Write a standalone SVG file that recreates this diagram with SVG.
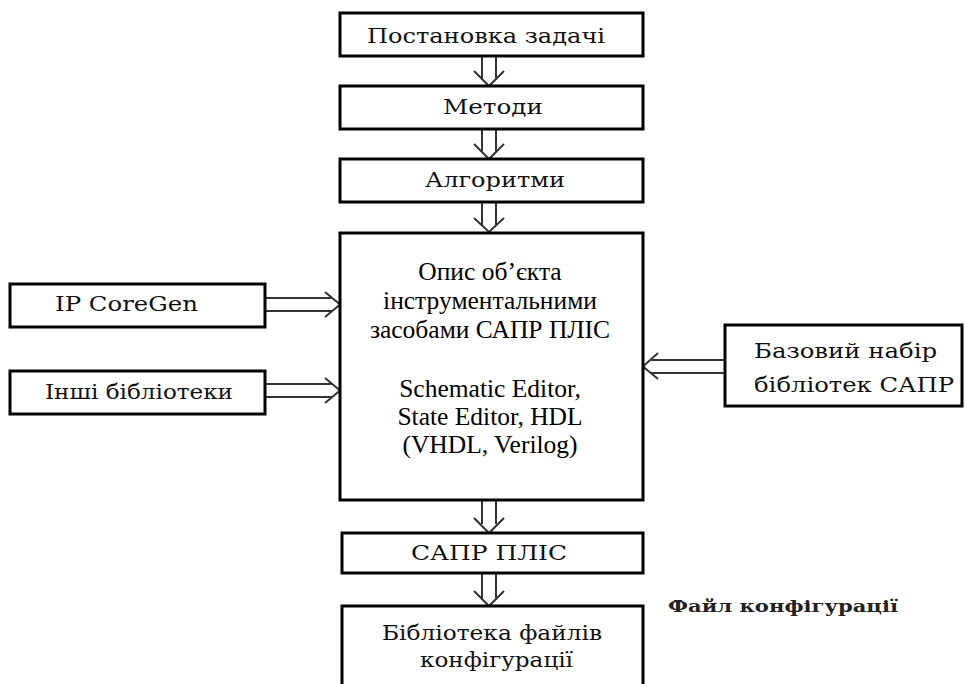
<svg xmlns="http://www.w3.org/2000/svg" width="965" height="684" viewBox="0 0 965 684">
<style>
.box{fill:#fff;stroke:#000;stroke-width:3}
.cn{fill:none;stroke:#333;stroke-width:2}
.t{font-family:"DejaVu Serif","Liberation Serif",serif;font-size:21px;fill:#111}
.s{font-family:"Liberation Serif","Times New Roman",serif;font-size:25.5px;fill:#000;text-anchor:middle}
.b{font-family:"DejaVu Serif","Liberation Serif",serif;font-size:17px;font-weight:bold;fill:#222}
</style>
<rect width="965" height="684" fill="#fff"/>
<g id="connectors">
<path class="cn" d="M482,57V78M496,57V78M474,71L489,86L504,71"/>
<path class="cn" d="M482,130V151M496,130V151M474,144L489,159L504,144"/>
<path class="cn" d="M482,203V225M496,203V225M474,218L489,232L504,218"/>
<path class="cn" d="M482,501V524M496,501V524M474,518L489,533L504,518"/>
<path class="cn" d="M482,574V598M496,574V598M474,591L489,606L504,591"/>
<path class="cn" d="M266,298H332M266,311H332M325,292L340,304.5L325,317"/>
<path class="cn" d="M266,384H332M266,397H332M325,378L340,390.5L325,403"/>
<path class="cn" d="M725,360H651M725,373H651M658,353L643,366.5L658,379"/>
</g>
<g id="n1"><rect class="box" x="340" y="13" width="303" height="43"/><text class="t" x="367" y="43" textLength="238" lengthAdjust="spacingAndGlyphs">Постановка задачі</text></g>
<g id="n2"><rect class="box" x="340" y="86" width="303" height="43"/><text class="t" x="443" y="114" textLength="100" lengthAdjust="spacingAndGlyphs">Методи</text></g>
<g id="n3"><rect class="box" x="340" y="159" width="303" height="43"/><text class="t" x="425" y="187" textLength="140" lengthAdjust="spacingAndGlyphs">Алгоритми</text></g>
<g id="main"><rect class="box" x="340" y="233" width="303" height="267"/>
<text class="s" x="490" y="280">Опис об’єкта</text>
<text class="s" x="490" y="309">інструментальними</text>
<text class="s" x="490" y="338">засобами САПР ПЛІС</text>
<text class="s" x="490" y="397">Schematic Editor,</text>
<text class="s" x="490" y="425">State Editor, HDL</text>
<text class="s" x="490" y="453">(VHDL, Verilog)</text>
</g>
<g id="ip"><rect class="box" x="10" y="284" width="255" height="43"/><text class="t" x="55" y="311" textLength="143" lengthAdjust="spacingAndGlyphs">IP CoreGen</text></g>
<g id="other"><rect class="box" x="10" y="371" width="255" height="43"/><text class="t" x="45" y="399" textLength="188" lengthAdjust="spacingAndGlyphs">Інші бібліотеки</text></g>
<g id="base"><rect class="box" x="725" y="325" width="237" height="81"/><text class="t" x="754" y="358" textLength="183" lengthAdjust="spacingAndGlyphs">Базовий набір</text><text class="t" x="754" y="392" textLength="200" lengthAdjust="spacingAndGlyphs">бібліотек САПР</text></g>
<g id="cad"><rect class="box" x="342" y="533" width="301" height="40"/><text class="t" x="411" y="560" textLength="156" lengthAdjust="spacingAndGlyphs">САПР ПЛІС</text></g>
<g id="lib"><rect class="box" x="342" y="606" width="301" height="90"/><text class="t" x="382" y="640" textLength="220" lengthAdjust="spacingAndGlyphs">Бібліотека файлів</text><text class="t" x="420" y="667" textLength="153" lengthAdjust="spacingAndGlyphs">конфігурації</text></g>
<g id="label"><text class="b" x="668" y="612" textLength="230" lengthAdjust="spacingAndGlyphs">Файл  конфігурації</text></g>
</svg>
